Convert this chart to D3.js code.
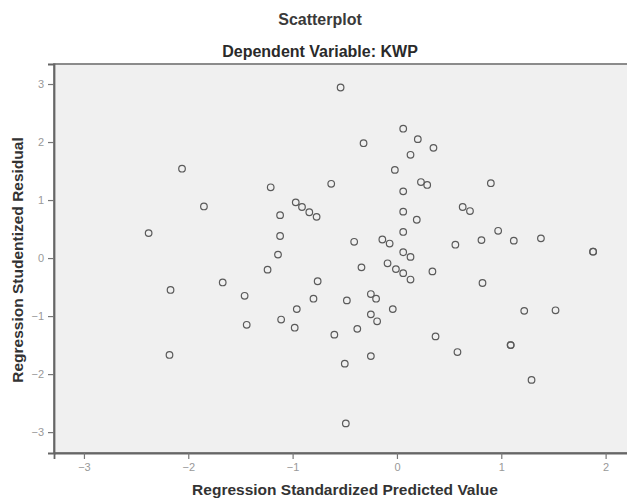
<!DOCTYPE html>
<html>
<head>
<meta charset="utf-8">
<script src="https://cdn.jsdelivr.net/npm/d3@7"></script>
<style>
  body { margin:0; background:#fff; }
  text { font-family: "Liberation Sans", Arial, sans-serif; }
</style>
</head>
<body>
<svg id="chart"></svg>
<script>
// values
var predicted = [-0.54, 0.06, 0.20, 0.35, -0.32, 0.13, -0.02, -2.06, -0.63, -1.21,
                 0.23, 0.29, 0.90, -1.85, -0.97, -0.91, -0.84, -0.77, 0.06, -1.12,
                 0.63, 0.70, 0.06, 0.19, 0.97, -2.38, -1.12, 0.06, -0.41, -0.14,
                 -0.07, 0.56, 0.81, 1.12, 1.38, 1.88, 1.88, -1.14, 0.06, 0.13,
                 -1.24, -0.34, -0.09, -0.01, 0.06, 0.13, 0.34, 0.82, -1.67, -2.17,
                 -1.46, -0.76, -0.80, -0.25, -0.20, -0.48, -0.96, -0.04, -1.11, -0.98,
                 -1.44, -0.60, -0.25, -0.19, -0.38, 0.37, 1.22, 1.52, 1.09, 1.09,
                 0.58, -2.18, -0.25, -0.50, 1.29, -0.49];
var residual = [2.94, 2.23, 2.05, 1.90, 1.98, 1.78, 1.52, 1.54, 1.28, 1.22,
                1.31, 1.26, 1.29, 0.89, 0.96, 0.88, 0.79, 0.71, 1.15, 0.74,
                0.88, 0.81, 0.80, 0.66, 0.47, 0.43, 0.38, 0.45, 0.28, 0.32,
                0.25, 0.23, 0.31, 0.30, 0.34, 0.11, 0.11, 0.06, 0.10, 0.02,
                -0.20, -0.16, -0.09, -0.19, -0.26, -0.37, -0.23, -0.43, -0.42, -0.55,
                -0.65, -0.40, -0.70, -0.62, -0.70, -0.73, -0.88, -0.88, -1.06, -1.20,
                -1.15, -1.32, -0.97, -1.09, -1.22, -1.35, -0.91, -0.90, -1.50, -1.50,
                -1.62, -1.67, -1.69, -1.82, -2.10, -2.85];
var xTicks = [-3, -2, -1, 0, 1, 2];
var yTicks = [-3, -2, -1, 0, 1, 2, 3];

var points = predicted.map(function(d, i){ return {x: d, y: residual[i]}; });

var screen = { width: 627, height: 500 };
var svg = d3.select("svg#chart")
            .attr("width", screen.width)
            .attr("height", screen.height)
            .style("display", "block");

var margins = { top: 64, bottom: 47, left: 54, right: -12 };
var width = screen.width - margins.left - margins.right;
var height = screen.height - margins.top - margins.bottom;

//scales
var xScale = d3.scaleLinear()
               .domain([-3.287, 2.32])
               .range([0, width]);
var yScale = d3.scaleLinear()
               .domain([-3.36, 3.345])
               .range([height, 0]);

//titles
svg.append("text")
   .attr("x", 320).attr("y", 25)
   .attr("text-anchor", "middle")
   .attr("font-size", 16).attr("font-weight", "bold").attr("fill", "#3a3a3a")
   .text("Scatterplot");
svg.append("text")
   .attr("x", 320).attr("y", 57)
   .attr("text-anchor", "middle")
   .attr("font-size", 16).attr("font-weight", "bold").attr("fill", "#2a2a2a")
   .text("Dependent Variable: KWP");

var plotLand = svg.append("g")
                  .classed("plot", true)
                  .attr("transform", "translate(" + margins.left + "," + margins.top + ")");

plotLand.append("rect")
        .attr("x", 0).attr("y", 0)
        .attr("width", width).attr("height", height)
        .attr("fill", "#f0f0f0")
        .attr("stroke", "#808080")
        .attr("stroke-width", 1.8);

plotLand.selectAll("circle")
        .data(points)
        .enter()
        .append("circle")
        .attr("cx", function(d){ return xScale(d.x); })
        .attr("cy", function(d){ return yScale(d.y); })
        .attr("r", 3.3)
        .attr("fill", "none")
        .attr("stroke", "#5a5a5a")
        .attr("stroke-width", 1.2);

//axes
var xAxis = d3.axisBottom(xScale).tickValues(xTicks).tickFormat(d3.format("d")).tickSize(6).tickPadding(4);
var yAxis = d3.axisLeft(yScale).tickValues(yTicks).tickFormat(d3.format("d")).tickSize(6).tickPadding(4);

var gx = plotLand.append("g").classed("xAxis", true)
                 .attr("transform", "translate(0," + height + ")")
                 .call(xAxis);
var gy = plotLand.append("g").classed("yAxis", true)
                 .call(yAxis);

[gx, gy].forEach(function(g){
  g.select(".domain").attr("stroke", "#666").attr("stroke-width", 1.8);
  g.selectAll(".tick line").attr("stroke", "#777").attr("stroke-width", 1.2);
  g.selectAll(".tick text")
   .attr("font-size", 11)
   .attr("fill", "#999")
   .attr("font-family", "'Liberation Sans', Arial, sans-serif");
});

//axis titles
svg.append("text")
   .attr("x", 345).attr("y", 495)
   .attr("text-anchor", "middle")
   .attr("font-size", 15.5).attr("font-weight", "bold").attr("fill", "#333")
   .text("Regression Standardized Predicted Value");
svg.append("text")
   .attr("transform", "translate(23,260) rotate(-90)")
   .attr("text-anchor", "middle")
   .attr("font-size", 15.5).attr("font-weight", "bold").attr("fill", "#333")
   .text("Regression Studentized Residual");
</script>
</body>
</html>
